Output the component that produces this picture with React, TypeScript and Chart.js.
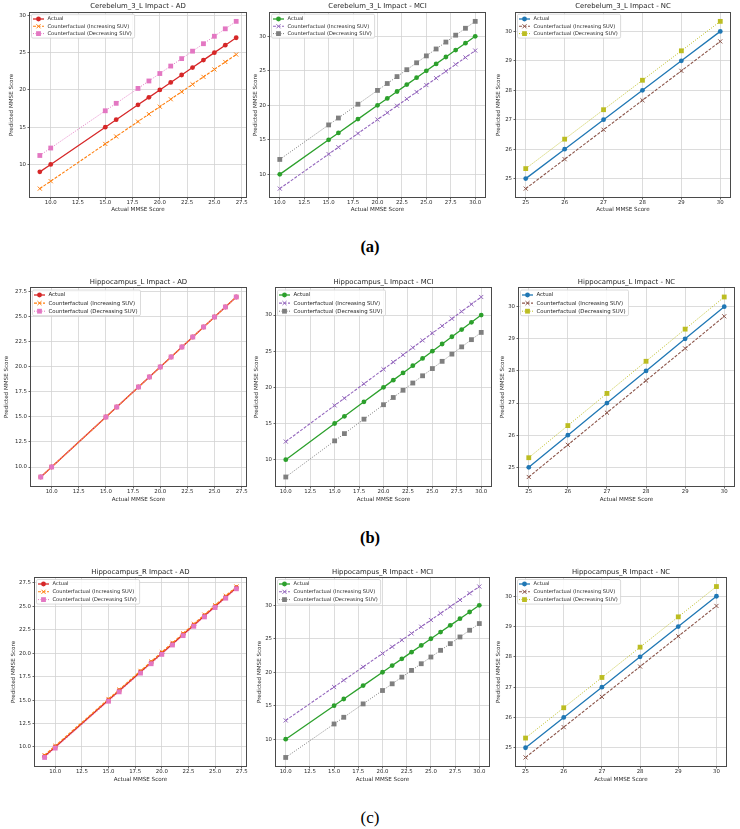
import React, { useEffect, useRef } from 'react';
import { Chart, registerables } from 'chart.js';

Chart.register(...registerables);

const FONT = "'DejaVu Sans', 'Liberation Sans', sans-serif";

// ---- categories (actual MMSE scores) ----
const adScores = [9, 10, 15, 16, 18, 19, 20, 21, 22, 23, 24, 25, 26, 27];
const mciScores = [10, 15, 16, 18, 20, 21, 22, 23, 24, 25, 26, 27, 28, 29, 30];
const ncScores = [25, 26, 27, 28, 29, 30];

// ---- Cerebelum_3_L ----
const cereAdActual = [9, 10, 15, 16, 18, 19, 20, 21, 22, 23, 24, 25, 26, 27];
const cereAdInc = [6.75, 7.75, 12.75, 13.75, 15.75, 16.75, 17.75, 18.75, 19.75, 20.75, 21.75, 22.75, 23.75, 24.75];
const cereAdDec = [11.2, 12.2, 17.2, 18.2, 20.2, 21.2, 22.2, 23.2, 24.2, 25.2, 26.2, 27.2, 28.2, 29.2];

const cereMciActual = [10, 15, 16, 18, 20, 21, 22, 23, 24, 25, 26, 27, 28, 29, 30];
const cereMciInc = [7.93, 12.93, 13.93, 15.93, 17.93, 18.93, 19.93, 20.93, 21.93, 22.93, 23.93, 24.93, 25.93, 26.93, 27.93];
const cereMciDec = [12.16, 17.16, 18.16, 20.16, 22.16, 23.16, 24.16, 25.16, 26.16, 27.16, 28.16, 29.16, 30.16, 31.16, 32.16];

const cereNcActual = [25, 26, 27, 28, 29, 30];
const cereNcInc = [24.66, 25.66, 26.66, 27.66, 28.66, 29.66];
const cereNcDec = [25.34, 26.34, 27.34, 28.34, 29.34, 30.34];

// ---- Hippocampus_L ----
const hipLAdActual = [9, 10, 15, 16, 18, 19, 20, 21, 22, 23, 24, 25, 26, 27];
const hipLAdInc = [9, 10, 15, 16, 18, 19, 20, 21, 22, 23, 24, 25, 26, 27];
const hipLAdDec = [9, 10, 15, 16, 18, 19, 20, 21, 22, 23, 24, 25, 26, 27];

const hipLMciActual = [10, 15, 16, 18, 20, 21, 22, 23, 24, 25, 26, 27, 28, 29, 30];
const hipLMciInc = [12.5, 17.5, 18.5, 20.5, 22.5, 23.5, 24.5, 25.5, 26.5, 27.5, 28.5, 29.5, 30.5, 31.5, 32.5];
const hipLMciDec = [7.6, 12.6, 13.6, 15.6, 17.6, 18.6, 19.6, 20.6, 21.6, 22.6, 23.6, 24.6, 25.6, 26.6, 27.6];

const hipLNcActual = [25, 26, 27, 28, 29, 30];
const hipLNcInc = [24.7, 25.7, 26.7, 27.7, 28.7, 29.7];
const hipLNcDec = [25.3, 26.3, 27.3, 28.3, 29.3, 30.3];

// ---- Hippocampus_R ----
const hipRAdActual = [9, 10, 15, 16, 18, 19, 20, 21, 22, 23, 24, 25, 26, 27];
const hipRAdInc = [9.12, 10.12, 15.12, 16.12, 18.12, 19.12, 20.12, 21.12, 22.12, 23.12, 24.12, 25.12, 26.12, 27.12];
const hipRAdDec = [8.88, 9.88, 14.88, 15.88, 17.88, 18.88, 19.88, 20.88, 21.88, 22.88, 23.88, 24.88, 25.88, 26.88];

const hipRMciActual = [10, 15, 16, 18, 20, 21, 22, 23, 24, 25, 26, 27, 28, 29, 30];
const hipRMciInc = [12.8, 17.8, 18.8, 20.8, 22.8, 23.8, 24.8, 25.8, 26.8, 27.8, 28.8, 29.8, 30.8, 31.8, 32.8];
const hipRMciDec = [7.27, 12.27, 13.27, 15.27, 17.27, 18.27, 19.27, 20.27, 21.27, 22.27, 23.27, 24.27, 25.27, 26.27, 27.27];

const hipRNcActual = [25, 26, 27, 28, 29, 30];
const hipRNcInc = [24.68, 25.68, 26.68, 27.68, 28.68, 29.68];
const hipRNcDec = [25.32, 26.32, 27.32, 28.32, 29.32, 30.32];

// ---- tick values ----
const adXTicks = [10, 12.5, 15, 17.5, 20, 22.5, 25, 27.5];
const mciXTicks = [10, 12.5, 15, 17.5, 20, 22.5, 25, 27.5, 30];
const ncTicks = [25, 26, 27, 28, 29, 30];
const coarseYTicks = [10, 15, 20, 25, 30];
const fineYTicks = [10, 12.5, 15, 17.5, 20, 22.5, 25, 27.5];

// ---- labels ----
const seriesLabels = ['Actual', 'Counterfactual (Increasing SUV)', 'Counterfactual (Decreasing SUV)'];
const xAxisTitle = 'Actual MMSE Score';
const yAxisTitle = 'Predicted MMSE Score';

const adColors = ['#d62728', '#ff7f0e', '#e377c2'];
const mciColors = ['#2ca02c', '#9467bd', '#7f7f7f'];
const ncColors = ['#1f77b4', '#8c564b', '#bcbd22'];

type RowStyle = {
  titleGap: number;
  xh: number;
  legFont: number;
  legRowH: number;
  legFirst: number;
  legInsetX: number;
  legInsetY: number;
};

const rowA: RowStyle = { titleGap: 7, xh: 16, legFont: 5.1, legRowH: 7.3, legFirst: 6, legInsetX: 1.5, legInsetY: 1.2 };
const rowB: RowStyle = { titleGap: 5.3, xh: 17, legFont: 5.4, legRowH: 8.1, legFirst: 7, legInsetX: 1.5, legInsetY: 2 };
const rowC: RowStyle = { titleGap: 5.3, xh: 17, legFont: 5.1, legRowH: 7.8, legFirst: 6, legInsetX: 1.5, legInsetY: 1.5 };

type PanelSpec = {
  title: string;
  xs: number[];
  actual: number[];
  inc: number[];
  dec: number[];
  colors: string[];
  xTicks: number[];
  xDec: number;
  yTicks: number[];
  yDec: number;
  plot: [number, number, number, number];
  yTitleX: number;
  row: RowStyle;
};

const panels: PanelSpec[] = [
  { title: 'Cerebelum_3_L Impact - AD', xs: adScores, actual: cereAdActual, inc: cereAdInc, dec: cereAdDec, colors: adColors, xTicks: adXTicks, xDec: 1, yTicks: coarseYTicks, yDec: 0, plot: [30, 13, 247, 197], yTitleX: 11.7, row: rowA },
  { title: 'Cerebelum_3_L Impact - MCI', xs: mciScores, actual: cereMciActual, inc: cereMciInc, dec: cereMciDec, colors: mciColors, xTicks: mciXTicks, xDec: 1, yTicks: coarseYTicks, yDec: 0, plot: [270, 13, 486, 197], yTitleX: 255, row: rowA },
  { title: 'Cerebelum_3_L Impact - NC', xs: ncScores, actual: cereNcActual, inc: cereNcInc, dec: cereNcDec, colors: ncColors, xTicks: ncTicks, xDec: 0, yTicks: ncTicks, yDec: 0, plot: [516, 13, 731, 197], yTitleX: 498.3, row: rowA },
  { title: 'Hippocampus_L Impact - AD', xs: adScores, actual: hipLAdActual, inc: hipLAdInc, dec: hipLAdDec, colors: adColors, xTicks: adXTicks, xDec: 1, yTicks: fineYTicks, yDec: 1, plot: [31, 288, 247, 486], yTitleX: 6, row: rowB },
  { title: 'Hippocampus_L Impact - MCI', xs: mciScores, actual: hipLMciActual, inc: hipLMciInc, dec: hipLMciDec, colors: mciColors, xTicks: mciXTicks, xDec: 1, yTicks: coarseYTicks, yDec: 0, plot: [276, 288, 492, 486], yTitleX: 256.7, row: rowB },
  { title: 'Hippocampus_L Impact - NC', xs: ncScores, actual: hipLNcActual, inc: hipLNcInc, dec: hipLNcDec, colors: ncColors, xTicks: ncTicks, xDec: 0, yTicks: ncTicks, yDec: 0, plot: [519, 288, 735, 486], yTitleX: 502.7, row: rowB },
  { title: 'Hippocampus_R Impact - AD', xs: adScores, actual: hipRAdActual, inc: hipRAdInc, dec: hipRAdDec, colors: adColors, xTicks: adXTicks, xDec: 1, yTicks: fineYTicks, yDec: 1, plot: [35, 578, 247, 766], yTitleX: 13.3, row: rowC },
  { title: 'Hippocampus_R Impact - MCI', xs: mciScores, actual: hipRMciActual, inc: hipRMciInc, dec: hipRMciDec, colors: mciColors, xTicks: mciXTicks, xDec: 1, yTicks: coarseYTicks, yDec: 0, plot: [276, 578, 490, 766], yTitleX: 259, row: rowC },
  { title: 'Hippocampus_R Impact - NC', xs: ncScores, actual: hipRNcActual, inc: hipRNcInc, dec: hipRNcDec, colors: ncColors, xTicks: ncTicks, xDec: 0, yTicks: ncTicks, yDec: 0, plot: [516, 578, 727, 766], yTitleX: 498.3, row: rowC },
];

function pts(xs: number[], ys: number[]) {
  return xs.map((x, i) => ({ x, y: ys[i] }));
}

function padRange(values: number[]): [number, number] {
  const lo = Math.min(...values);
  const hi = Math.max(...values);
  const m = (hi - lo) * 0.05;
  return [lo - m, hi + m];
}

function drawMarker(ctx: CanvasRenderingContext2D, style: string, x: number, y: number, r: number, color: string, bw: number) {
  ctx.save();
  ctx.fillStyle = color;
  ctx.strokeStyle = color;
  ctx.lineWidth = bw;
  ctx.setLineDash([]);
  ctx.beginPath();
  if (style === 'circle') {
    ctx.arc(x, y, r, 0, Math.PI * 2);
    ctx.fill();
  } else if (style === 'rect') {
    const s = Math.SQRT1_2 * r;
    ctx.rect(x - s, y - s, 2 * s, 2 * s);
    ctx.fill();
  } else {
    const d = Math.SQRT1_2 * r;
    ctx.moveTo(x - d, y - d);
    ctx.lineTo(x + d, y + d);
    ctx.moveTo(x + d, y - d);
    ctx.lineTo(x - d, y + d);
    ctx.stroke();
  }
  ctx.restore();
}

const TOP_PAD = 14;
const RIGHT_PAD = 4;
const TEXT = '#1e1e1e';

function geometry(p: PanelSpec) {
  const [L, T, R, B] = p.plot;
  const left = Math.round(p.yTitleX - 3.3);
  const top = T - TOP_PAD;
  return { left, top, w: R + RIGHT_PAD - left, h: B + p.row.xh - top, yw: L - left };
}

function makeConfig(p: PanelSpec): any {
  const g = geometry(p);
  const [xmin, xmax] = padRange(p.xs);
  const [ymin, ymax] = padRange([...p.actual, ...p.inc, ...p.dec]);
  const [c0, c1, c2] = p.colors;
  const tickFont = { family: FONT, size: 5.4 };
  const titleFont = { family: FONT, size: 5.6, lineHeight: 1.2 };
  const gridOpts = { color: '#d3d3d3', lineWidth: 0.8, tickLength: 2.5, tickColor: '#444', tickWidth: 0.8, drawTicks: true };

  const decor = {
    id: 'panelDecor',
    afterDatasetsDraw(chart: any) {
      const { ctx, chartArea: a } = chart;
      ctx.save();
      ctx.strokeStyle = '#4a4a4a';
      ctx.lineWidth = 1;
      ctx.setLineDash([]);
      ctx.strokeRect(Math.round(a.left) - 0.5, Math.round(a.top) - 0.5, Math.round(a.right - a.left) + 1, Math.round(a.bottom - a.top) + 1);
      ctx.fillStyle = TEXT;
      ctx.font = `6.9px ${FONT}`;
      ctx.textAlign = 'center';
      ctx.textBaseline = 'middle';
      ctx.fillText(p.title, (a.left + a.right) / 2, a.top - p.row.titleGap);
      const r = p.row;
      ctx.font = `${r.legFont}px ${FONT}`;
      const tw = Math.max(...seriesLabels.map((l) => ctx.measureText(l).width));
      const lx = a.left + r.legInsetX;
      const ly = a.top + r.legInsetY;
      const textX = 16;
      const bw = textX + tw + 3;
      const bh = r.legFirst - r.legInsetY + 2 * r.legRowH + 4.5;
      ctx.beginPath();
      const rad = 1.5;
      ctx.moveTo(lx + rad, ly);
      ctx.lineTo(lx + bw - rad, ly);
      ctx.quadraticCurveTo(lx + bw, ly, lx + bw, ly + rad);
      ctx.lineTo(lx + bw, ly + bh - rad);
      ctx.quadraticCurveTo(lx + bw, ly + bh, lx + bw - rad, ly + bh);
      ctx.lineTo(lx + rad, ly + bh);
      ctx.quadraticCurveTo(lx, ly + bh, lx, ly + bh - rad);
      ctx.lineTo(lx, ly + rad);
      ctx.quadraticCurveTo(lx, ly, lx + rad, ly);
      ctx.closePath();
      ctx.fillStyle = 'rgba(255,255,255,0.85)';
      ctx.fill();
      ctx.strokeStyle = '#d0d0d0';
      ctx.lineWidth = 0.8;
      ctx.stroke();
      chart.data.datasets.forEach((ds: any, i: number) => {
        const cy = a.top + r.legFirst + i * r.legRowH;
        ctx.strokeStyle = ds.borderColor;
        ctx.lineWidth = ds.borderWidth;
        ctx.setLineDash(ds.borderDash || []);
        ctx.beginPath();
        ctx.moveTo(lx + 1.5, cy);
        ctx.lineTo(lx + 12.5, cy);
        ctx.stroke();
        ctx.setLineDash([]);
        drawMarker(ctx, ds.pointStyle, lx + 7, cy, ds.pointRadius, ds.borderColor, ds.pointBorderWidth);
        ctx.fillStyle = TEXT;
        ctx.textAlign = 'left';
        ctx.textBaseline = 'middle';
        ctx.fillText(ds.label, lx + textX, cy);
      });
      ctx.restore();
    },
  };

  return {
    type: 'line',
    data: {
      datasets: [
        {
          label: seriesLabels[0], data: pts(p.xs, p.actual), order: 3,
          borderColor: c0, backgroundColor: c0, borderWidth: 1.3,
          pointStyle: 'circle', pointRadius: 2.4, pointBorderWidth: 0, tension: 0,
        },
        {
          label: seriesLabels[1], data: pts(p.xs, p.inc), order: 2,
          borderColor: c1, backgroundColor: c1, borderWidth: 1.1, borderDash: [3, 1.5],
          pointStyle: 'crossRot', pointRadius: 2.9, pointBorderWidth: 1, tension: 0,
        },
        {
          label: seriesLabels[2], data: pts(p.xs, p.dec), order: 1,
          borderColor: c2, backgroundColor: c2, borderWidth: 1, borderDash: [1, 1.5],
          pointStyle: 'rect', pointRadius: 3.4, pointBorderWidth: 0, tension: 0,
        },
      ],
    },
    options: {
      responsive: false,
      animation: false,
      devicePixelRatio: 1,
      events: [],
      layout: { padding: { top: TOP_PAD, left: 0, right: RIGHT_PAD, bottom: 0 } },
      plugins: { legend: { display: false }, tooltip: { enabled: false }, title: { display: false } },
      scales: {
        x: {
          type: 'linear', min: xmin, max: xmax,
          afterBuildTicks: (s: any) => { s.ticks = p.xTicks.map((v) => ({ value: v })); },
          afterFit: (s: any) => { s.height = p.row.xh; },
          ticks: { font: tickFont, color: '#2a2a2a', padding: 0, autoSkip: false, maxRotation: 0, callback: (v: any) => Number(v).toFixed(p.xDec) },
          grid: gridOpts,
          border: { display: false },
          title: { display: true, text: xAxisTitle, font: titleFont, color: '#2a2a2a', padding: 0 },
        },
        y: {
          type: 'linear', min: ymin, max: ymax,
          afterBuildTicks: (s: any) => { s.ticks = p.yTicks.map((v) => ({ value: v })); },
          afterFit: (s: any) => { s.width = g.yw; },
          ticks: { font: tickFont, color: '#2a2a2a', padding: 1.5, autoSkip: false, callback: (v: any) => Number(v).toFixed(p.yDec) },
          grid: gridOpts,
          border: { display: false },
          title: { display: true, text: yAxisTitle, font: titleFont, color: '#2a2a2a', padding: 0 },
        },
      },
    },
    plugins: [decor],
  };
}

function PanelChart({ spec }: { spec: PanelSpec }) {
  const ref = useRef<HTMLCanvasElement | null>(null);
  const g = geometry(spec);
  useEffect(() => {
    if (!ref.current) return;
    const chart = new Chart(ref.current, makeConfig(spec));
    return () => chart.destroy();
  }, [spec]);
  return (
    <canvas
      ref={ref}
      width={g.w}
      height={g.h}
      style={{ position: 'absolute', left: g.left, top: g.top, width: g.w, height: g.h, display: 'block' }}
    />
  );
}

const subLabels = [
  { text: '(a)', y: 247, bold: true, size: 16.5 },
  { text: '(b)', y: 538, bold: true, size: 16.5 },
  { text: '(c)', y: 817, bold: false, size: 17 },
];

export default function App() {
  return (
    <div style={{ position: 'absolute', left: 0, top: 0, width: 740, height: 829, background: '#fff', overflow: 'hidden' }}>
      {panels.map((p, i) => (
        <PanelChart key={i} spec={p} />
      ))}
      {subLabels.map((l) => (
        <div
          key={l.text}
          style={{
            position: 'absolute', left: 370, top: l.y, transform: 'translate(-50%, -50%)',
            fontFamily: "'Liberation Serif', 'Times New Roman', serif", fontWeight: l.bold ? 700 : 400,
            fontSize: l.size, lineHeight: 1, color: '#000', whiteSpace: 'nowrap',
          }}
        >
          {l.text}
        </div>
      ))}
    </div>
  );
}
